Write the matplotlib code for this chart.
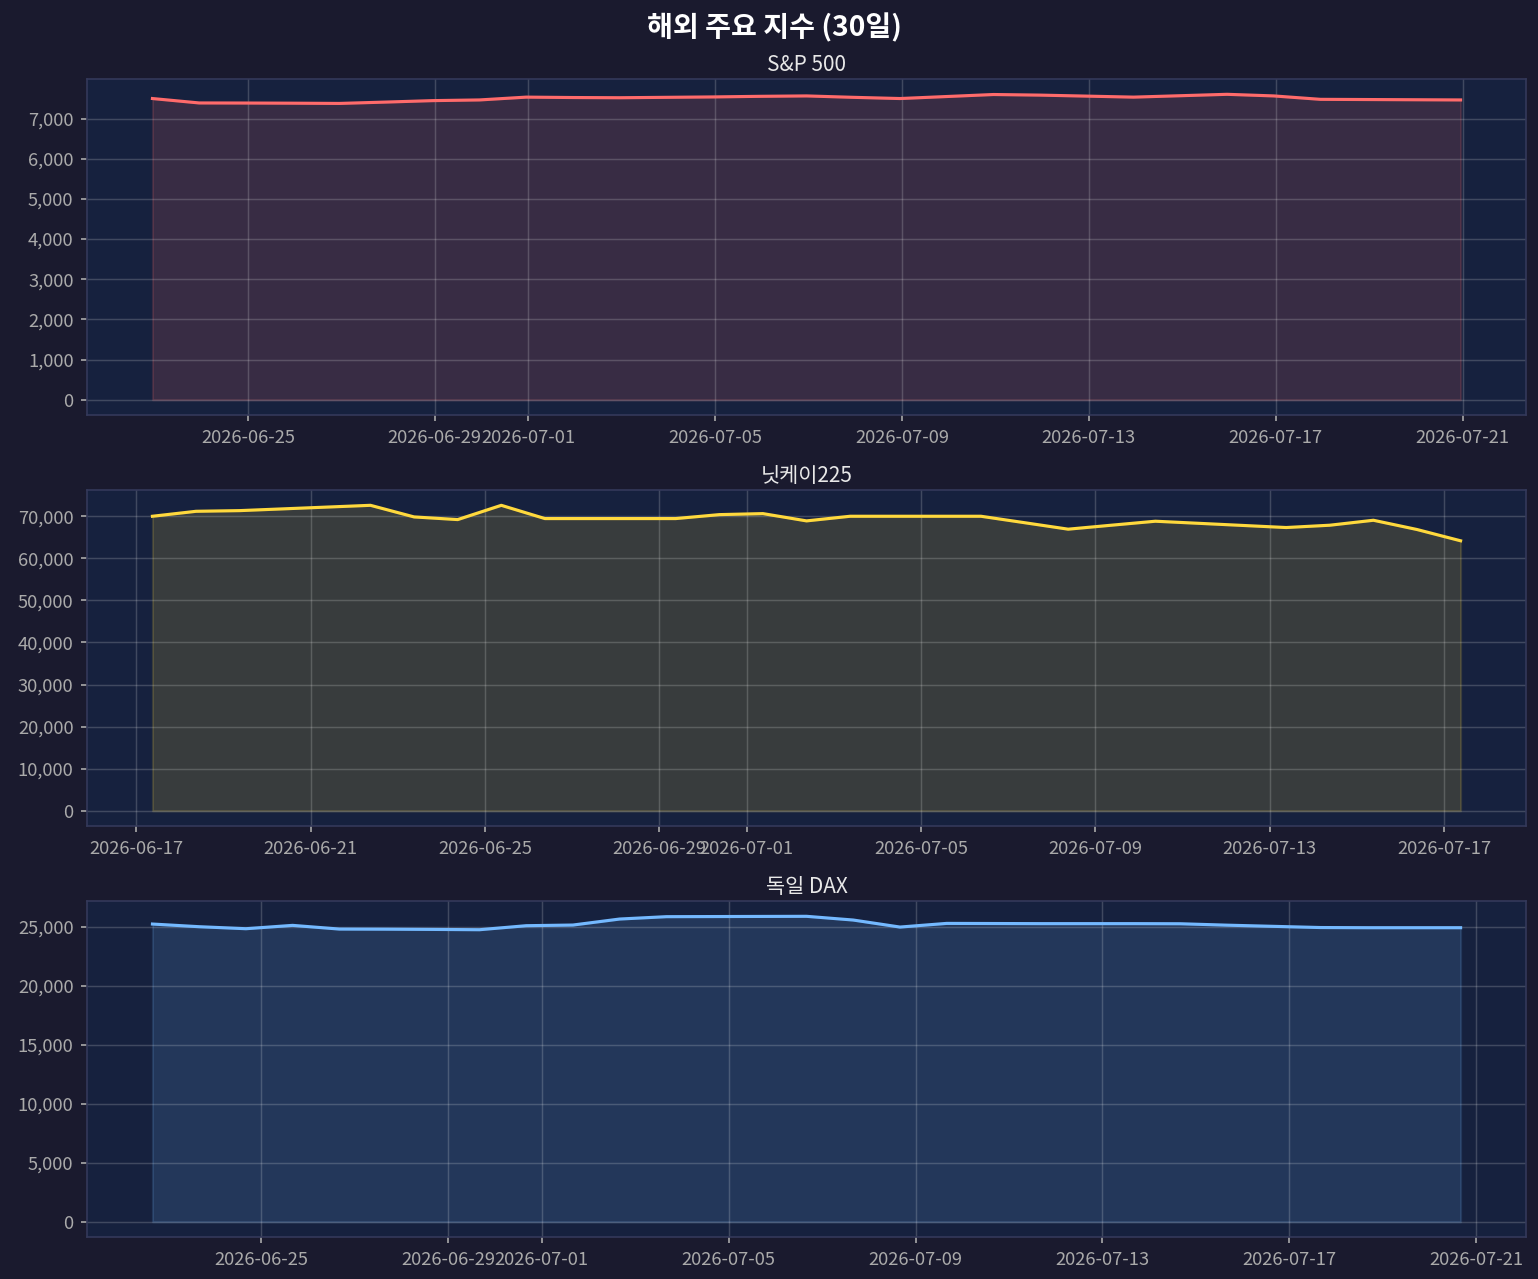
import pandas as pd
import matplotlib
matplotlib.use("Agg")
import matplotlib.pyplot as plt
from matplotlib.ticker import FuncFormatter

plt.rcParams["font.family"] = ["Noto Sans CJK KR", "DejaVu Sans"]

# daily closes
sp500_start = "2026-06-22 23:00"
sp500 = [7500, 7390, 7388, 7384, 7378, 7412, 7448, 7465, 7535, 7525,
         7520, 7530, 7540, 7555, 7565, 7530, 7500, 7550, 7600, 7585,
         7560, 7535, 7570, 7605, 7565, 7480, 7475, 7470, 7465]

nikkei_start = "2026-06-17 09:00"
nikkei = [70000, 71180, 71340, 71760, 72180, 72600, 69840, 69210, 72600, 69450,
          69450, 69450, 69450, 70390, 70630, 68900, 70000, 70000, 70000, 70000,
          68470, 66930, 67880, 68820, 68320, 67820, 67320, 67870, 69050, 66850,
          64170]

dax_start = "2026-06-22 16:00"
dax = [25226, 25000, 24830, 25113, 24800, 24790, 24770, 24745, 25085, 25141,
       25650, 25850, 25860, 25870, 25880, 25565, 24970, 25280, 25270, 25260,
       25260, 25260, 25250, 25130, 25030, 24930, 24915, 24915, 24915]

series = [
    ("S&P 500", sp500_start, sp500, "#ff6b6b"),
    ("닛케이225", nikkei_start, nikkei, "#ffd93d"),
    ("독일 DAX", dax_start, dax, "#74b9ff"),
]

bg = "#1a1a2e"
face = "#16213e"

fig, axes = plt.subplots(nrows=3, figsize=(1538 / 150, 1279 / 150), dpi=150)
fig.patch.set_facecolor(bg)

for ax, (name, start, values, color) in zip(axes, series):
    dates = pd.date_range(start=start, periods=len(values), freq="D")
    ax.set_facecolor(face)
    ax.plot(dates, values, color=color, linewidth=1.5)
    ax.fill_between(dates, values, color=color, alpha=0.15)
    ax.set_title(name, color="#e8e8e8", fontsize=10, pad=4)
    ax.grid(True, color="white", alpha=0.18, linewidth=0.7)
    ax.yaxis.set_major_formatter(FuncFormatter(lambda v, p: f"{v:,.0f}"))
    ax.tick_params(colors="#aaaaaa", labelsize=8.8, length=3)
    for s in ax.spines.values():
        s.set_color("#34395a")

fig.suptitle("해외 주요 지수 (30일)", color="white", fontsize=13.5,
             fontweight="bold", x=0.5035, y=0.990)
plt.subplots_adjust(left=0.0566, right=0.9922, top=0.9382, bottom=0.0328,
                    hspace=0.2232)
plt.savefig("out.png", dpi=150, facecolor=bg)
